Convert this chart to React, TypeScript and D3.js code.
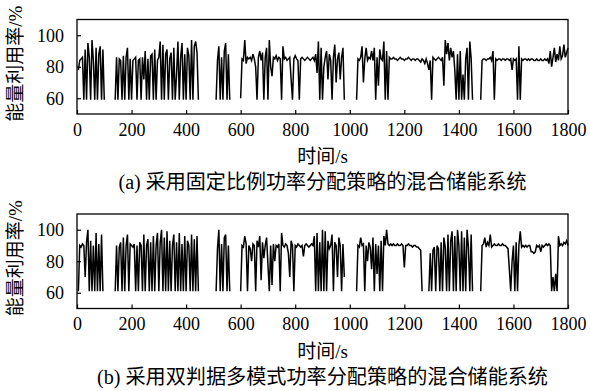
import { useEffect, useRef } from 'react';
import * as d3 from 'd3';

// sample spacing of the series (s)
const STEP = 5;

const xTicks = [0, 200, 400, 600, 800, 1000, 1200, 1400, 1600, 1800];
const yTicks = [60, 80, 100];

// (a) fixed ratio strategy: segment start times and values
const fixedStarts = [5, 140, 510, 600, 1025, 1480];
const fixedSeg1 = [78, 84, 85, 86, 59, 91, 59, 95, 86, 59, 97, 84, 59, 92, 59, 88, 93, 59, 91, 59];
const fixedSeg2 = [59, 86, 59, 85, 84, 59, 87, 59, 86, 92, 59, 85, 59, 84, 85, 86, 59, 84, 85, 59, 86, 72, 90, 59, 85, 59, 87, 88, 59, 91, 59, 84, 86, 96, 59, 94, 59, 88, 91, 59, 85, 89, 59, 92, 59, 75, 96, 59, 86, 95, 59, 88, 59, 92, 87, 59, 97, 59, 93, 96, 89, 59];
const fixedSeg3 = [59, 84, 93, 59, 86, 59, 90, 95, 59, 88, 59];
const fixedSeg4 = [60, 85, 84, 97, 82, 86, 85, 86, 84, 88, 85, 80, 59, 86, 90, 84, 89, 59, 86, 92, 59, 97, 80, 74, 86, 85, 87, 84, 86, 85, 59, 93, 85, 86, 84, 85, 86, 72, 59, 85, 87, 85, 84, 59, 85, 86, 85, 84, 85, 86, 85, 84, 85, 86, 84, 88, 76, 96, 59, 92, 59, 80, 86, 90, 72, 88, 84, 59, 86, 94, 70, 85, 89, 72, 86, 92, 59];
const fixedSeg5 = [59, 85, 84, 86, 93, 70, 85, 92, 84, 86, 85, 90, 84, 92, 59, 86, 68, 91, 85, 84, 96, 59, 90, 59, 86, 85, 85, 86, 85, 85, 84, 85, 86, 85, 85, 84, 85, 85, 86, 85, 84, 85, 85, 84, 85, 85, 84, 83, 85, 84, 82, 85, 82, 78, 84, 59, 86, 85, 84, 85, 86, 85, 84, 86, 68, 97, 88, 95, 84, 92, 86, 90, 78, 59, 88, 59, 90, 59, 75, 59, 85, 92, 59, 96, 85, 59];
const fixedSeg6 = [59, 84, 85, 85, 84, 85, 85, 86, 84, 90, 59, 85, 84, 85, 85, 84, 85, 85, 84, 85, 85, 84, 85, 78, 85, 84, 85, 59, 93, 59, 85, 84, 85, 85, 84, 85, 84, 85, 85, 84, 84, 85, 84, 84, 85, 84, 84, 85, 84, 85, 82, 90, 80, 86, 92, 83, 88, 84, 93, 85, 87, 94, 86, 89, 92];
const fixedSegs = [fixedSeg1, fixedSeg2, fixedSeg3, fixedSeg4, fixedSeg5, fixedSeg6];

// (b) dual-criterion multi-mode strategy
const dualStarts = [5, 140, 510, 600, 1025, 1290, 1480];
const dualSeg1 = [61, 90, 89, 91, 90, 70, 92, 100, 61, 93, 61, 90, 61, 98, 61, 91, 61, 97, 61];
const dualSeg2 = [61, 90, 61, 89, 92, 61, 95, 61, 90, 97, 61, 91, 90, 89, 91, 61, 90, 61, 92, 90, 61, 97, 61, 90, 94, 61, 92, 61, 96, 61, 90, 98, 61, 92, 100, 61, 95, 61, 99, 61, 93, 61, 90, 97, 61, 92, 61, 98, 61, 91, 61, 96, 61, 93, 90, 61, 97, 61, 94, 61, 96, 61];
const dualSeg3 = [61, 88, 100, 61, 91, 61, 95, 97, 61, 90, 61];
const dualSeg4 = [61, 90, 89, 96, 91, 61, 90, 88, 80, 91, 90, 61, 93, 89, 96, 68, 92, 82, 90, 95, 78, 61, 90, 65, 91, 80, 90, 89, 91, 61, 98, 90, 89, 91, 90, 85, 70, 93, 90, 61, 90, 89, 91, 90, 89, 90, 83, 90, 91, 90, 89, 90, 91, 90, 96, 61, 98, 61, 92, 61, 100, 61, 99, 61, 93, 88, 90, 97, 61, 92, 90, 70, 95, 90, 61, 91, 70];
const dualSeg5 = [61, 90, 89, 95, 90, 91, 61, 90, 80, 92, 89, 75, 95, 61, 91, 72, 90, 61, 93, 61, 96, 90, 100, 91, 90, 91, 90, 91, 90, 90, 91, 90, 90, 91, 90, 76, 90, 90, 91, 90, 90, 89, 90, 90, 89, 89, 88, 87, 61];
const dualSeg6 = [61, 85, 61, 87, 89, 61, 90, 88, 61, 92, 61, 95, 89, 61, 97, 61, 93, 99, 61, 96, 61, 100, 90, 61, 99, 61, 95, 61, 100, 89, 61, 97, 61];
const dualSeg7 = [61, 90, 91, 95, 89, 92, 90, 97, 89, 90, 91, 90, 90, 91, 90, 90, 91, 90, 90, 89, 88, 75, 61, 80, 90, 61, 92, 61, 90, 99, 89, 90, 89, 90, 89, 90, 90, 86, 86, 85, 86, 90, 89, 90, 86, 90, 89, 90, 91, 90, 91, 90, 61, 70, 61, 72, 61, 96, 90, 91, 90, 92, 91, 93, 90];
const dualSegs = [dualSeg1, dualSeg2, dualSeg3, dualSeg4, dualSeg5, dualSeg6, dualSeg7];

const yLabel = '能量利用率/%';
const xLabel = '时间/s';
const captions = ['(a) 采用固定比例功率分配策略的混合储能系统', '(b) 采用双判据多模式功率分配策略的混合储能系统'];

const W = 590;
const H = 391;
const serif = "'Liberation Serif', 'Times New Roman', 'Noto Sans CJK SC', serif";

export default function App() {
  const ref = useRef<SVGSVGElement>(null);

  useEffect(() => {
    if (!ref.current) return;
    const svg = d3.select(ref.current);
    svg.selectAll('*').remove();

    const left = 77, right = 568, plotH = 94.5;
    const panels = [
      { top: 19.5, starts: fixedStarts, segs: fixedSegs, caption: captions[0], capW: 408 },
      { top: 214, starts: dualStarts, segs: dualSegs, caption: captions[1], capW: 451 },
    ];

    const x = d3.scaleLinear().domain([0, 1800]).range([left, right]);

    panels.forEach(p => {
      const y = d3.scaleLinear().domain([50, 110]).range([p.top + plotH, p.top]);
      const g = svg.append('g');

      p.segs.forEach((vals, si) => {
        const t0 = p.starts[si];
        const path = d3.line<number>()
          .x((_, i) => x(t0 + i * STEP))
          .y(d => y(d));
        g.append('path').datum(vals)
          .attr('fill', 'none').attr('stroke', '#000').attr('stroke-width', 1.5)
          .attr('d', path);
      });

      g.append('g').attr('transform', `translate(0,${p.top + plotH})`)
        .call(d3.axisBottom(x).tickValues(xTicks).tickSizeInner(-4).tickSizeOuter(0).tickPadding(9).tickFormat(d3.format('d')))
        .call(s => s.select('.domain').remove())
        .call(s => s.selectAll('.tick line').attr('stroke', '#000').attr('stroke-width', 1.2))
        .call(s => s.selectAll('text').attr('fill', '#000').attr('font-size', 18).attr('font-family', serif));

      g.append('g').attr('transform', `translate(${left},0)`)
        .call(d3.axisLeft(y).tickValues(yTicks).tickSizeInner(-4).tickSizeOuter(0).tickPadding(13))
        .call(s => s.select('.domain').remove())
        .call(s => s.selectAll('.tick line').attr('stroke', '#000').attr('stroke-width', 1.2))
        .call(s => s.selectAll('text').attr('fill', '#000').attr('font-size', 18).attr('font-family', serif));

      g.append('rect').attr('x', left).attr('y', p.top).attr('width', right - left).attr('height', plotH)
        .attr('fill', 'none').attr('stroke', '#000').attr('stroke-width', 1.3);

      g.append('text').attr('transform', `translate(22,${p.top + plotH / 2 - 3}) rotate(-90)`)
        .attr('text-anchor', 'middle').attr('font-size', 19)
        .attr('font-family', serif).attr('fill', '#000')
        .text(yLabel);

      g.append('text').attr('x', (left + right) / 2).attr('y', p.top + plotH + 49)
        .attr('text-anchor', 'middle').attr('font-size', 19)
        .attr('font-family', serif).attr('fill', '#000')
        .text(xLabel);

      g.append('text').attr('x', (left + right) / 2).attr('y', p.top + plotH + 75)
        .attr('text-anchor', 'middle').attr('font-size', 20)
        .attr('font-family', serif).attr('fill', '#000')
        .attr('textLength', p.capW).attr('lengthAdjust', 'spacingAndGlyphs')
        .text(p.caption);
    });
  }, []);

  return (
    <svg ref={ref} width={W} height={H}
      style={{ position: 'absolute', left: 0, top: 0, background: '#fff' }} />
  );
}
